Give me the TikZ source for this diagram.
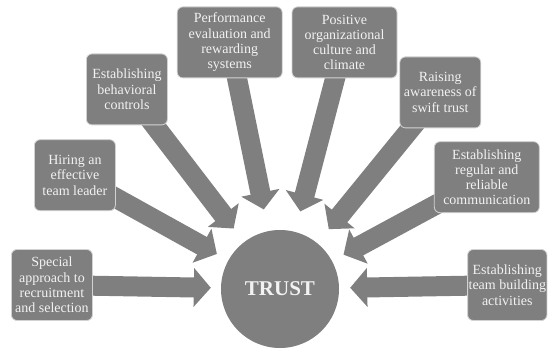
\documentclass[tikz,border=0pt]{standalone}
\usepackage{fontspec}
\setmainfont{Liberation Serif}
\usetikzlibrary{arrows.meta, positioning, backgrounds}
\definecolor{shade}{RGB}{127,127,127}
\definecolor{paper}{RGB}{242,242,242}
\tikzstyle{factor} = [rectangle, rounded corners=2mm, fill=shade, draw=shade!35!white, line width=0.8pt, minimum width=81pt, minimum height=71pt, inner sep=1pt, align=center, text=paper, font=\fontsize{14}{15.3}\selectfont]
\tikzstyle{widefactor} = [factor, minimum width=105pt]
\tikzstyle{core} = [circle, fill=shade, minimum size=118pt, inner sep=0pt, text=paper, font=\fontsize{21}{25}\selectfont\bfseries]
\tikzstyle{bigarrow} = [draw=shade, line width=20pt, -{Triangle[width=38pt, length=17pt]}]

\begin{document}
\begin{tikzpicture}[x=1pt, y=1pt]
		\useasboundingbox (0,0) rectangle (548,348);
		\node (Trust) [core] at (280,59) {TRUST};

		\node (Special) [factor, left = 128pt of Trust, yshift=4pt] {Special\\approach to\\recruitment\\and selection};
		\node (Hiring) [factor, above = 38pt of Special, xshift=23pt] {Hiring an\\effective\\team leader};
		\node (Controls) [factor, above = 14pt of Hiring, xshift=52pt] {Establishing\\behavioral\\controls};
		\node (Rewards) [widefactor, right = 9pt of Controls, yshift=47pt] {Performance\\evaluation and\\rewarding\\systems};
		\node (Culture) [widefactor, right = 9pt of Rewards] {Positive\\organizational\\culture and\\climate};
		\node (Swift) [factor, right = 2pt of Culture, yshift=-50pt] {Raising\\awareness of\\swift trust};
		\node (Communication) [widefactor, below = 13pt of Swift, xshift=46.5pt] {Establishing\\regular and\\reliable\\communication};
		\node (TeamBuilding) [factor, right = 128pt of Trust, yshift=4pt, minimum width=79pt] {Establishing\\team building\\activities};

		% fat arrows run under the boxes
		\begin{pgfonlayer}{background}
		\draw [bigarrow, shorten >=10pt] (Special.center) -- (Trust);
		\draw [bigarrow, shorten >=13pt] (Hiring.center) -- (Trust);
		\draw [bigarrow, shorten >=17pt] (Controls.center) -- (Trust);
		\draw [bigarrow, shorten >=22pt] (Rewards.center) -- (Trust);
		\draw [bigarrow, shorten >=21pt] (Culture.center) -- (Trust);
		\draw [bigarrow, shorten >=18pt] (Swift.center) -- (Trust);
		\draw [bigarrow, shorten >=13pt] (Communication.center) -- (Trust);
		\draw [bigarrow, shorten >=11pt] (TeamBuilding.center) -- (Trust);
		\end{pgfonlayer}
	\end{tikzpicture}
\end{document}
